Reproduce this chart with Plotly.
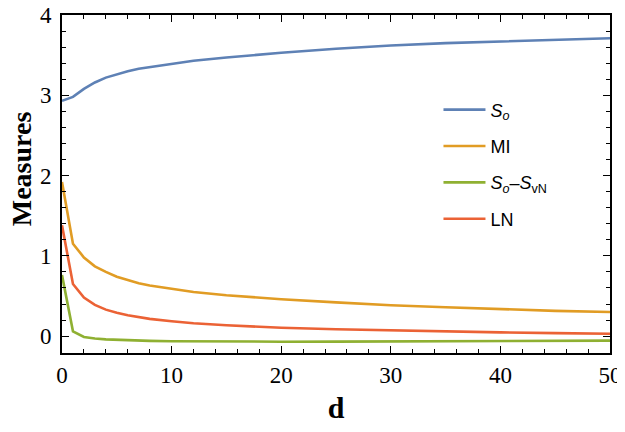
import plotly.graph_objects as go

# distance d and the four measures
d = [0, 1, 2, 3, 4, 5, 6, 7, 8, 10, 12, 15, 20, 25, 30, 35, 40, 45, 50]
s_o = [2.93, 2.98, 3.08, 3.16, 3.22, 3.26, 3.30, 3.33, 3.35, 3.39, 3.43, 3.47,
       3.53, 3.58, 3.62, 3.65, 3.67, 3.69, 3.71]
mi = [1.92, 1.15, 0.98, 0.87, 0.80, 0.74, 0.70, 0.66, 0.63, 0.59, 0.55, 0.51,
      0.46, 0.42, 0.385, 0.36, 0.335, 0.315, 0.30]
s_diff = [0.76, 0.06, -0.01, -0.03, -0.04, -0.047, -0.052, -0.056, -0.059, -0.063,
          -0.066, -0.068, -0.069, -0.068, -0.066, -0.064, -0.061, -0.059, -0.056]
ln = [1.38, 0.65, 0.48, 0.39, 0.33, 0.29, 0.26, 0.235, 0.215, 0.185, 0.16, 0.135,
      0.105, 0.085, 0.07, 0.057, 0.047, 0.038, 0.03]

names = ["<i>S</i><sub><i>o</i></sub>", "MI",
         "<i>S</i><sub><i>o</i></sub>\u2013<i>S</i><sub>vN</sub>", "LN"]
series = [s_o, mi, s_diff, ln]
colors = ["#5E81B5", "#E19C24", "#8FB032", "#EB6235"]

fig = go.Figure()
for i, (nm, ys, c) in enumerate(zip(names, series, colors)):
    fig.add_trace(go.Scatter(x=d, y=ys, mode="lines", name=nm,
                             legendgroup=str(i),
                             line=dict(color=c, width=2.6)))

axis = dict(
    showline=True, linewidth=1.6, linecolor="black", mirror="allticks",
    ticks="inside", ticklen=7, tickwidth=1.3, tickcolor="black",
    showgrid=False, zeroline=False, automargin=False,
    ticklabeloverflow="allow",
    tickfont=dict(family="Liberation Serif", size=23, color="black"),
)

# page body has an 8px margin: figure is offset by 8px
fig.update_layout(
    width=617, height=416,
    margin=dict(l=54, r=15, t=7, b=71),
    plot_bgcolor="white", paper_bgcolor="white",
    xaxis=dict(axis, range=[0, 50], tickvals=[0, 10, 20, 30, 40, 50],
               minor=dict(dtick=2, ticks="inside", ticklen=4, tickcolor="black", tickwidth=1),
               ticklabelstandoff=1,
               title=dict(text="<b>d</b>", standoff=16,
                          font=dict(family="Liberation Serif", size=30, color="black"))),
    yaxis=dict(axis, range=[-0.21, 4.0], tickvals=[0, 1, 2, 3, 4],
               minor=dict(dtick=0.2, ticks="inside", ticklen=4, tickcolor="black", tickwidth=1),
               ticklabelstandoff=4),
    legend=dict(x=0.687, y=0.774, xanchor="left", yanchor="top",
                bgcolor="rgba(0,0,0,0)", tracegroupgap=10, itemwidth=42,
                font=dict(family="Liberation Sans", size=18, color="black")),
)

fig.add_annotation(text="<b>Measures</b>", textangle=-90, showarrow=False,
                   xref="paper", yref="paper", x=-0.074, y=0.545,
                   xanchor="center", yanchor="middle",
                   font=dict(family="Liberation Serif", size=28, color="black"))

fig.write_html("out.html")
